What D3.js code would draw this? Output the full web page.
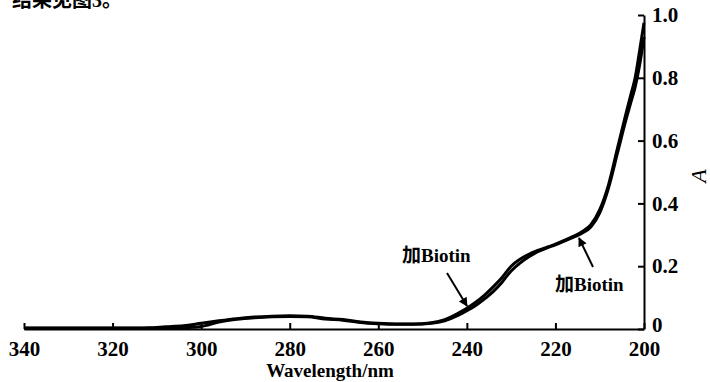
<!DOCTYPE html>
<html lang="zh">
  <head>
    <meta charset="UTF-8" />
    <title>UV spectrum with and without Biotin</title>
    <script src="https://d3js.org/d3.v7.min.js"></script>
    <style>
      body {
        margin: 0;
        background: #fff;
      }
      svg text {
        font-family: "Liberation Serif", "Noto Sans CJK SC", serif;
        font-weight: bold;
        fill: #000;
      }
    </style>
  </head>
  <body>
    <div id="chart"></div>

    <script>
      // wavelength (nm) and absorbance of the two scans
      const wavelength = [340, 330, 320, 315, 312, 308, 304, 300, 296, 292, 288, 284, 280, 276, 272, 268, 264, 260, 256, 252, 248, 245, 242, 240, 238, 236, 234, 232, 230, 228, 226, 224, 222, 220, 218, 216, 214, 212, 210, 208, 206, 204, 203, 202, 201, 200];
      const absControl = [0.003, 0.003, 0.003, 0.003, 0.004, 0.007, 0.01, 0.018, 0.026, 0.033, 0.038, 0.041, 0.042, 0.041, 0.034, 0.03, 0.022, 0.018, 0.016, 0.016, 0.02, 0.03, 0.05, 0.066, 0.085, 0.108, 0.135, 0.165, 0.2, 0.222, 0.238, 0.25, 0.26, 0.27, 0.282, 0.295, 0.31, 0.332, 0.38, 0.46, 0.575, 0.69, 0.745, 0.8, 0.885, 0.975];
      const absBiotin = [0.002, 0.002, 0.002, 0.002, 0.002, 0.003, 0.004, 0.008, 0.022, 0.031, 0.036, 0.039, 0.04, 0.039, 0.032, 0.028, 0.021, 0.017, 0.015, 0.015, 0.018, 0.026, 0.043, 0.058, 0.075, 0.096, 0.12, 0.15, 0.185, 0.21, 0.23, 0.246, 0.258, 0.268, 0.28, 0.292, 0.305, 0.325, 0.37, 0.45, 0.56, 0.67, 0.72, 0.77, 0.84, 0.93];
      const xTicks = [340, 320, 300, 280, 260, 240, 220, 200];
      const yTicks = [0, 0.2, 0.4, 0.6, 0.8, 1.0];

      const width = 710;
      const height = 382;
      const serif = '"Liberation Serif", serif';

      const x = d3.scaleLinear().domain([340, 200]).range([24, 644]);
      const y = d3.scaleLinear().domain([0, 1]).range([329, 15]);

      const svg = d3
        .select("#chart")
        .append("svg")
        .attr("width", width)
        .attr("height", height);

      // clipped line of body text above the figure
      svg
        .append("text")
        .attr("x", 12)
        .attr("y", 7)
        .style("font-size", "20px")
        .text("结果见图3。");

      // x axis, ticks pointing up
      const xAxis = svg
        .append("g")
        .attr("transform", `translate(0,${y(0)})`)
        .call(
          d3
            .axisBottom(x)
            .tickValues(xTicks)
            .tickSizeInner(-6)
            .tickSizeOuter(0)
            .tickPadding(12)
            .tickFormat(d3.format("d"))
        );

      // y axis on the right, ticks pointing left
      const yAxis = svg
        .append("g")
        .attr("transform", `translate(${x(200)},0)`)
        .call(
          d3
            .axisRight(y)
            .tickValues(yTicks)
            .tickSizeInner(-6)
            .tickSizeOuter(0)
            .tickPadding(8)
            .tickFormat((d) => (d === 0 ? "0" : d3.format(".1f")(d)))
        );

      [xAxis, yAxis].forEach((g) => {
        g.attr("font-family", null).attr("font-size", null);
        g.select(".domain").attr("stroke", "#000").attr("stroke-width", 2);
        g.selectAll(".tick line").attr("stroke", "#000").attr("stroke-width", 2);
        g.selectAll(".tick text")
          .style("font-size", "21px")
          .style("font-family", serif)
          .style("font-weight", "bold");
      });

      // the "0" sits a little above the x axis so it clears "200"
      yAxis
        .selectAll(".tick text")
        .filter((d) => d === 0)
        .attr("dy", "0.1em");

      // spectra
      const line = d3
        .line()
        .x((d) => x(d[0]))
        .y((d) => y(d[1]))
        .curve(d3.curveMonotoneX);

      [absControl, absBiotin].forEach((series) => {
        svg
          .append("path")
          .datum(wavelength.map((w, i) => [w, series[i]]))
          .attr("fill", "none")
          .attr("stroke", "#000")
          .attr("stroke-width", 3)
          .attr("d", line);
      });

      // annotations
      svg
        .append("defs")
        .append("marker")
        .attr("id", "head")
        .attr("viewBox", "0 0 10 10")
        .attr("refX", 9)
        .attr("refY", 5)
        .attr("markerUnits", "userSpaceOnUse")
        .attr("markerWidth", 11)
        .attr("markerHeight", 9)
        .attr("orient", "auto")
        .append("path")
        .attr("d", "M0,0 L10,5 L0,10 z")
        .attr("fill", "#000");

      const notes = [
        { label: "加Biotin", tx: 402, ty: 262, from: [447, 273], to: [467, 306] },
        { label: "加Biotin", tx: 555, ty: 291, from: [593, 267], to: [579, 238] },
      ];

      notes.forEach((n) => {
        svg
          .append("text")
          .attr("x", n.tx)
          .attr("y", n.ty)
          .style("font-size", "19px")
          .text(n.label);
        svg
          .append("line")
          .attr("x1", n.from[0])
          .attr("y1", n.from[1])
          .attr("x2", n.to[0])
          .attr("y2", n.to[1])
          .attr("stroke", "#000")
          .attr("stroke-width", 2)
          .attr("marker-end", "url(#head)");
      });

      // axis titles
      svg
        .append("text")
        .attr("x", 330)
        .attr("y", 377)
        .attr("text-anchor", "middle")
        .style("font-size", "19px")
        .text("Wavelength/nm");

      svg
        .append("text")
        .attr("transform", "translate(706,176) rotate(-90)")
        .attr("text-anchor", "middle")
        .style("font-size", "22px")
        .style("font-style", "italic")
        .style("font-weight", "normal")
        .text("A");
    </script>
  </body>
</html>
